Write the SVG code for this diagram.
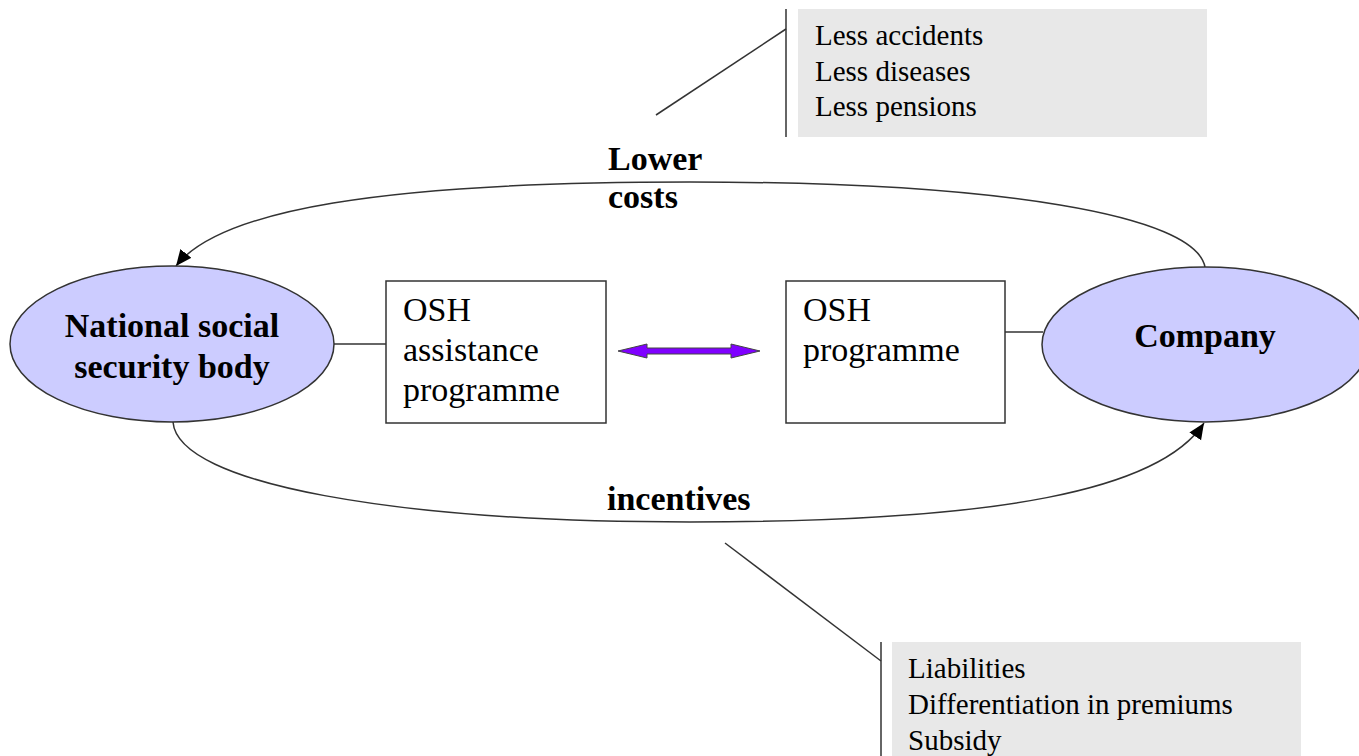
<svg xmlns="http://www.w3.org/2000/svg" width="1359" height="756" viewBox="0 0 1359 756">
  <style>
    .ell { fill: #ccccff; stroke: #333333; stroke-width: 1.5; }
    .box { fill: #ffffff; stroke: #333333; stroke-width: 1.5; }
    .note { fill: #e8e8e8; stroke: none; }
    .line { fill: none; stroke: #333333; stroke-width: 1.5; }
    .bold { font-family: "Liberation Serif", "Times New Roman", serif; font-weight: bold; font-size: 34px; fill: #000; }
    .reg { font-family: "Liberation Serif", "Times New Roman", serif; font-size: 34px; fill: #000; }
    .small { font-family: "Liberation Serif", "Times New Roman", serif; font-size: 29px; fill: #000; }
  </style>
  <defs>
    <marker id="arrow" markerUnits="userSpaceOnUse" markerWidth="18" markerHeight="16" refX="16" refY="7" orient="auto">
      <path d="M0,0 L16,7 L0,14 Z" fill="#000000"/>
    </marker>
  </defs>
  <rect width="1359" height="756" fill="#ffffff"/>

  <g id="connectors">
    <path class="line" d="M1205,267 C1195,215 1000,182 690,182 C380,182 220,210 176,266" marker-end="url(#arrow)"/>
    <path class="line" d="M173,422 C178,485 400,522 690,522 C1000,522 1160,490 1204,423" marker-end="url(#arrow)"/>
    <line class="line" x1="334" y1="344" x2="386" y2="344"/>
    <line class="line" x1="1005" y1="332" x2="1043" y2="332"/>
    <line class="line" x1="656" y1="115" x2="786" y2="29"/>
    <line class="line" x1="786" y1="9" x2="786" y2="137"/>
    <line class="line" x1="725" y1="543" x2="881" y2="661"/>
    <line class="line" x1="881" y1="642" x2="881" y2="756"/>
    <polygon points="618,351 647,344 647,348 731,348 731,344 760,351 731,358 731,354 647,354 647,358" fill="#7f00ff" stroke="#444444" stroke-width="1"/>
  </g>

  <g id="nssb">
    <ellipse class="ell" cx="172" cy="344" rx="162" ry="78"/>
    <text class="bold" x="172" y="337" text-anchor="middle">National social</text>
    <text class="bold" x="172" y="378" text-anchor="middle">security body</text>
  </g>

  <g id="company">
    <ellipse class="ell" cx="1205" cy="344.5" rx="163" ry="77.5"/>
    <text class="bold" x="1205" y="347" text-anchor="middle">Company</text>
  </g>

  <g id="osh-assistance">
    <rect class="box" x="386" y="281" width="220" height="142"/>
    <text class="reg" x="403" y="321">OSH</text>
    <text class="reg" x="403" y="361">assistance</text>
    <text class="reg" x="403" y="401">programme</text>
  </g>

  <g id="osh-programme">
    <rect class="box" x="786" y="281" width="219" height="142"/>
    <text class="reg" x="803" y="321">OSH</text>
    <text class="reg" x="803" y="361">programme</text>
  </g>

  <g id="label-lower-costs">
    <text class="bold" x="608" y="170">Lower</text>
    <text class="bold" x="608" y="208">costs</text>
  </g>

  <g id="label-incentives">
    <text class="bold" x="607" y="510">incentives</text>
  </g>

  <g id="note-top">
    <rect class="note" x="798" y="9" width="409" height="128"/>
    <text class="small" x="815" y="45">Less accidents</text>
    <text class="small" x="815" y="81">Less diseases</text>
    <text class="small" x="815" y="116">Less pensions</text>
  </g>

  <g id="note-bottom">
    <rect class="note" x="892" y="642" width="409" height="114"/>
    <text class="small" x="908" y="678">Liabilities</text>
    <text class="small" x="908" y="714">Differentiation in premiums</text>
    <text class="small" x="908" y="750">Subsidy</text>
  </g>
</svg>
